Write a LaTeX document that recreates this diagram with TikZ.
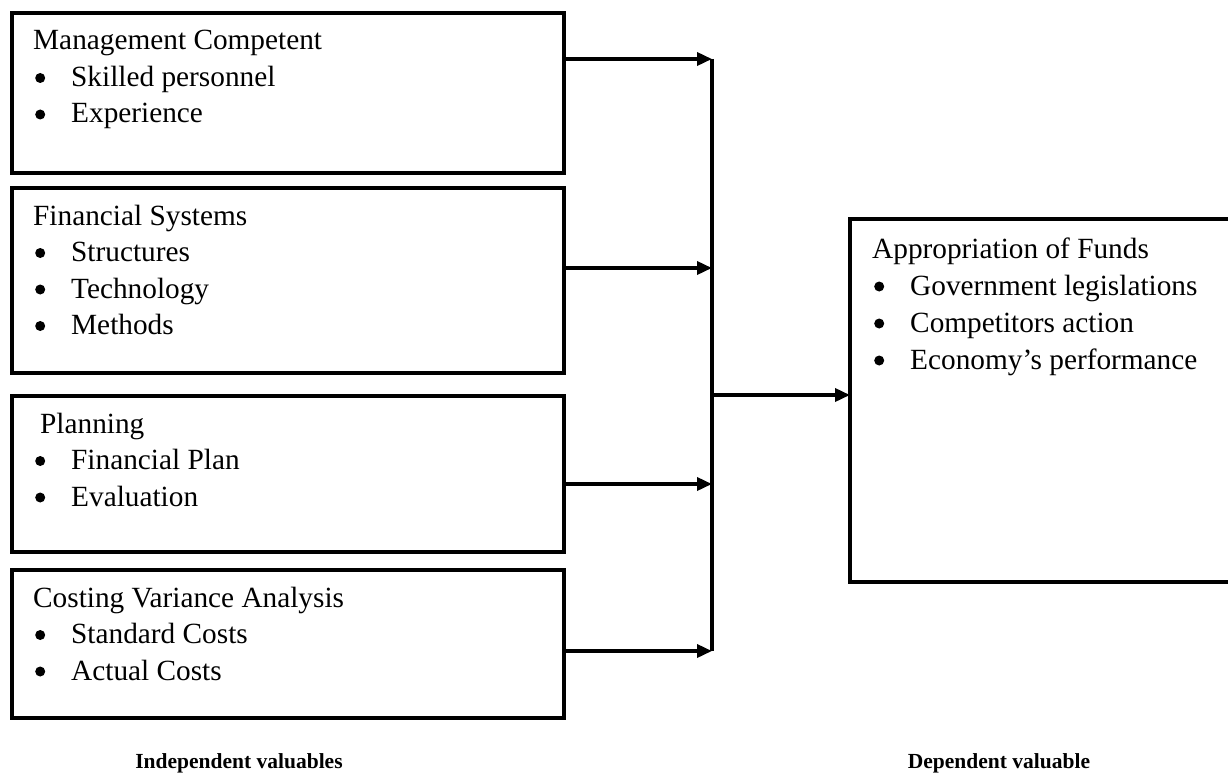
\documentclass[tikz,border=0pt]{standalone}
\usepackage{fontspec}
\setmainfont{Liberation Serif}
\usetikzlibrary{arrows.meta}
\tikzset{
  box/.style={draw, line width=4pt, inner sep=0pt, outer sep=0pt, anchor=north west},
  txt/.style={anchor=base west, inner sep=0pt, font=\fontsize{29.3}{35}\selectfont},
  lbl/.style={anchor=base, inner sep=0pt, font=\fontsize{21.5}{26}\selectfont\bfseries},
  conn/.style={line width=3.5pt, -{Triangle[length=15pt,width=13pt]}},
  bar/.style={line width=3.5pt}
}
\newcommand{\itm}{\makebox[38pt][l]{\hspace{2pt}\tikz[baseline=0pt]{\fill (5pt,8.5pt) circle (5pt);}}}
\begin{document}
\begin{tikzpicture}[x=1pt,y=-1pt]
\useasboundingbox (0,0) rectangle (1228,773);
% boxes
\node[box, minimum width=552pt, minimum height=160pt] (b1) at (12,13) {};
\node[box, minimum width=552pt, minimum height=185pt] (b2) at (12,188) {};
\node[box, minimum width=552pt, minimum height=156pt] (b3) at (12,396) {};
\node[box, minimum width=552pt, minimum height=148pt] (b4) at (12,570) {};
\node[box, minimum width=390pt, minimum height=363pt] (rb) at (850,219) {};
% texts box 1
\node[txt] (t1) at (33,50) {Management Competent};
\node[txt] (t1a) at (33,86.5) {\itm Skilled personnel};
\node[txt] (t1b) at (33,123) {\itm Experience};
% box 2
\node[txt] (t2) at (33,225) {Financial Systems};
\node[txt] (t2a) at (33,261.5) {\itm Structures};
\node[txt] (t2b) at (33,298) {\itm Technology};
\node[txt] (t2c) at (33,334.5) {\itm Methods};
% box 3
\node[txt] (t3) at (40,433) {Planning};
\node[txt] (t3a) at (33,469.5) {\itm Financial Plan};
\node[txt] (t3b) at (33,506) {\itm Evaluation};
% box 4
\node[txt] (t4) at (33,607) {Costing Variance Analysis};
\node[txt] (t4a) at (33,643.5) {\itm Standard Costs};
\node[txt] (t4b) at (33,680) {\itm Actual Costs};
% right box
\node[txt] (r0) at (872,258) {Appropriation of Funds};
\node[txt] (r1) at (872,295) {\itm Government legislations};
\node[txt] (r2) at (872,332) {\itm Competitors action};
\node[txt] (r3) at (872,369) {\itm Economy’s performance};
% labels
\node[lbl] (li) at (239,768) {Independent valuables};
\node[lbl] (ld) at (999,768) {Dependent valuable};
% connectors
\coordinate (j1) at (712,59);
\coordinate (j2) at (712,268);
\coordinate (j3) at (712,484);
\coordinate (j4) at (712,651);
\coordinate (jm) at (712,395);
\draw[bar] (j1) -- (j4);
\draw[conn] (b1.east |- j1) -- (j1);
\draw[conn] (b2.east |- j2) -- (j2);
\draw[conn] (b3.east |- j3) -- (j3);
\draw[conn] (b4.east |- j4) -- (j4);
\draw[conn] (jm) -- (rb.west |- jm);
\end{tikzpicture}
\end{document}
